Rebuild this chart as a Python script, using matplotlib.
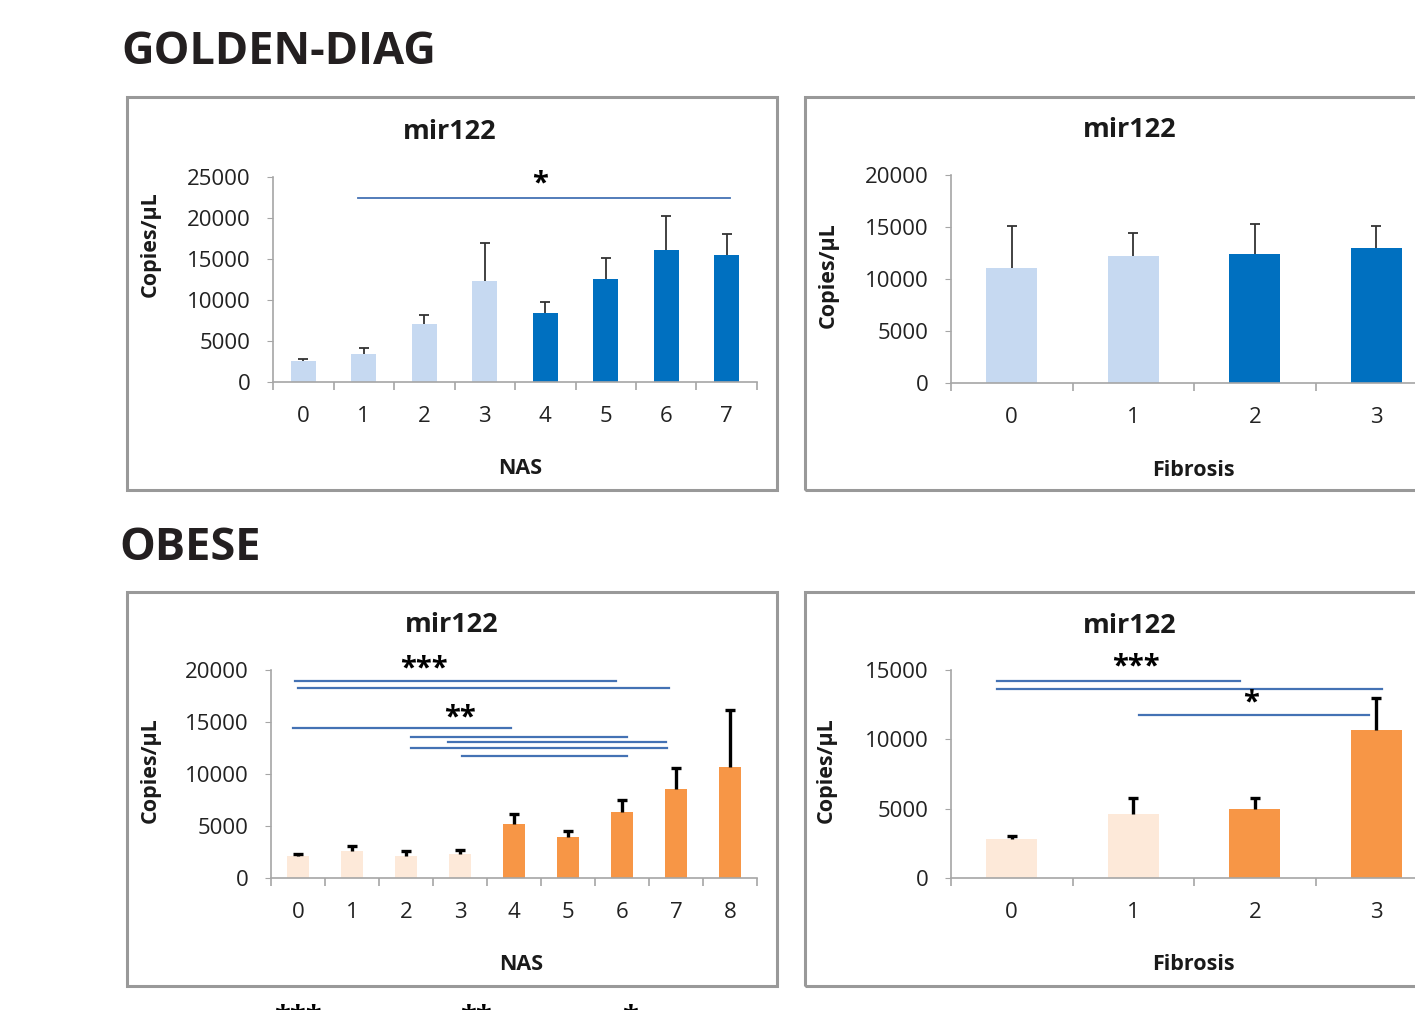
import numpy as np
import matplotlib
matplotlib.use("Agg")
import matplotlib.pyplot as plt
from matplotlib.patches import Rectangle

plt.rcParams['font.family'] = ['Open Sans', 'DejaVu Sans']

# GOLDEN-DIAG cohort, mir122 copies/uL
gd_nas_cats = ['0', '1', '2', '3', '4', '5', '6', '7']
gd_nas_mean = [2600, 3400, 7100, 12350, 8400, 12500, 16150, 15500]
gd_nas_err = [250, 800, 1100, 4650, 1300, 2650, 4150, 2600]

gd_fib_cats = ['0', '1', '2', '3']
gd_fib_mean = [11050, 12200, 12400, 12950]
gd_fib_err = [4050, 2250, 2880, 2150]

# OBESE cohort
ob_nas_cats = ['0', '1', '2', '3', '4', '5', '6', '7', '8']
ob_nas_mean = [2100, 2600, 2150, 2350, 5150, 3950, 6300, 8600, 10700]
ob_nas_err = [250, 500, 450, 300, 1050, 600, 1200, 1950, 5450]

ob_fib_cats = ['0', '1', '2', '3']
ob_fib_mean = [2780, 4650, 4980, 10680]
ob_fib_err = [240, 1100, 770, 2300]

# significance bars: (from, to, height) and stars: (x, height, label)
gd_nas_lines = [(0.9, 7.05, 22450)]
gd_nas_stars = [(3.92, 24600, '*')]
ob_nas_lines = [(-0.05, 5.88, 18950), (0.0, 6.87, 18230), (-0.1, 3.95, 14380),
                (2.1, 6.1, 13580), (2.78, 6.81, 13100), (2.1, 6.83, 12460),
                (3.03, 6.1, 11750)]
ob_nas_stars = [(2.33, 20450, '***'), (3.0, 15700, '**')]
ob_fib_lines = [(-0.12, 1.88, 14180), (-0.12, 3.05, 13600), (1.05, 2.94, 11770)]
ob_fib_stars = [(1.02, 15500, '***'), (1.97, 12840, '*')]

LIGHT_BLUE = '#C6D9F1'
DARK_BLUE = '#0070C0'
LIGHT_ORANGE = '#FDE9D9'
ORANGE = '#F79646'
SIG = '#4472B4'
GRID = '#A6A6A6'

W, H = 1415, 1010
fig = plt.figure(figsize=(W / 100, H / 100), dpi=100)


def fx(x):
    return x / W


def fy(y):
    return 1 - y / H


def make_axes(x0, ytop, x1, ybot):
    return fig.add_axes([fx(x0), fy(ybot), (x1 - x0) / W, (ybot - ytop) / H])


def box(x0, y0, x1, y1):
    fig.patches.append(Rectangle((fx(x0), fy(y1)), (x1 - x0) / W, (y1 - y0) / H,
                                 transform=fig.transFigure, fill=False,
                                 edgecolor='#999999', linewidth=2.2))


def panel(ax, cats, mean, err, colors, ymax, ystep, ecolor, elw,
          lines=(), stars=(), slw=1.4):
    x = np.arange(len(cats))
    ax.bar(x, mean, width=0.42, color=colors, zorder=2)
    eb = ax.errorbar(x, mean, yerr=[np.zeros(len(x)), err], fmt='none',
                     ecolor=ecolor, elinewidth=elw, capsize=3.6, capthick=elw,
                     zorder=3)
    # only the upper whisker gets a cap
    eb[1][0].set_visible(False)
    for a, b, y in lines:
        ax.plot([a, b], [y, y], color=SIG, lw=slw, zorder=3, clip_on=False)
    for sx, sy, s in stars:
        ax.annotate(s, (sx, sy), xytext=(0, -2.5), textcoords='offset points',
                    ha='center', va='center', fontsize=21, fontweight='bold',
                    color='black', annotation_clip=False)
    ax.set_xlim(-0.5, len(cats) - 0.5)
    ax.set_ylim(0, ymax)
    ax.set_yticks(np.arange(0, ymax + 1, ystep))
    ax.set_xticks(x)
    ax.set_xticklabels(cats)
    ax.set_xticks(np.arange(-0.5, len(cats), 1.0), minor=True)
    for s in ['top', 'right']:
        ax.spines[s].set_visible(False)
    for s in ['left', 'bottom']:
        ax.spines[s].set_color(GRID)
        ax.spines[s].set_linewidth(1.2)
    ax.tick_params(axis='y', length=4, color=GRID, labelsize=16, pad=12,
                   labelcolor='#222222')
    ax.tick_params(axis='x', which='major', length=0, labelsize=16, pad=17,
                   labelcolor='#222222')
    ax.tick_params(axis='x', which='minor', length=6, color=GRID, width=1.2)
    ax.patch.set_alpha(0)


# panel frames
box(127, 97, 777, 490)
box(805, 97, 1425, 490)
box(127, 592, 777, 986)
box(805, 592, 1425, 986)

fig.text(fx(121), fy(53), 'GOLDEN-DIAG', fontsize=32.5, fontweight='bold',
         color='#231F20', va='center', ha='left')
fig.text(fx(119), fy(549), 'OBESE', fontsize=32.5, fontweight='bold',
         color='#231F20', va='center', ha='left')

ax1 = make_axes(273, 177, 757, 382)
panel(ax1, gd_nas_cats, gd_nas_mean, gd_nas_err,
      [LIGHT_BLUE] * 4 + [DARK_BLUE] * 4, 25000, 5000, '#333333', 1.3,
      gd_nas_lines, gd_nas_stars, slw=1.3)

ax2 = make_axes(951, 175, 1437, 383)
panel(ax2, gd_fib_cats, gd_fib_mean, gd_fib_err,
      [LIGHT_BLUE] * 2 + [DARK_BLUE] * 2, 20000, 5000, '#333333', 1.3)

ax3 = make_axes(271, 670, 757, 878)
panel(ax3, ob_nas_cats, ob_nas_mean, ob_nas_err,
      [LIGHT_ORANGE] * 4 + [ORANGE] * 5, 20000, 5000, 'black', 2.4,
      ob_nas_lines, ob_nas_stars, slw=1.6)

ax4 = make_axes(951, 670, 1437, 878)
panel(ax4, ob_fib_cats, ob_fib_mean, ob_fib_err,
      [LIGHT_ORANGE] * 2 + [ORANGE] * 2, 15000, 5000, 'black', 2.4,
      ob_fib_lines, ob_fib_stars, slw=1.6)

# chart titles and axis labels
for x, y in [(450, 132), (1130, 130), (452, 625), (1130, 626)]:
    fig.text(fx(x), fy(y), 'mir122', fontsize=19.5, fontweight='bold',
             ha='center', va='center', color='#1a1a1a')
for x, y in [(150, 244), (828, 275), (150, 770), (826, 770)]:
    fig.text(fx(x), fy(y), 'Copies/µL', fontsize=15.5, fontweight='bold',
             rotation=90, ha='center', va='center', color='#1a1a1a')
for x, y, s in [(520, 469, 'NAS'), (1193, 470, 'Fibrosis'),
                (521, 965, 'NAS'), (1193, 965, 'Fibrosis')]:
    fig.text(fx(x), fy(y), s, fontsize=15.5, fontweight='bold',
             ha='center', va='center', color='#1a1a1a')

# next row of significance marks, running off the bottom edge
for x, s in [(298, '***'), (476, '**'), (630, '*')]:
    fig.text(fx(x), fy(1003), s, fontsize=21, fontweight='bold',
             ha='center', va='top', color='black')

fig.savefig('out.png', dpi=100)
